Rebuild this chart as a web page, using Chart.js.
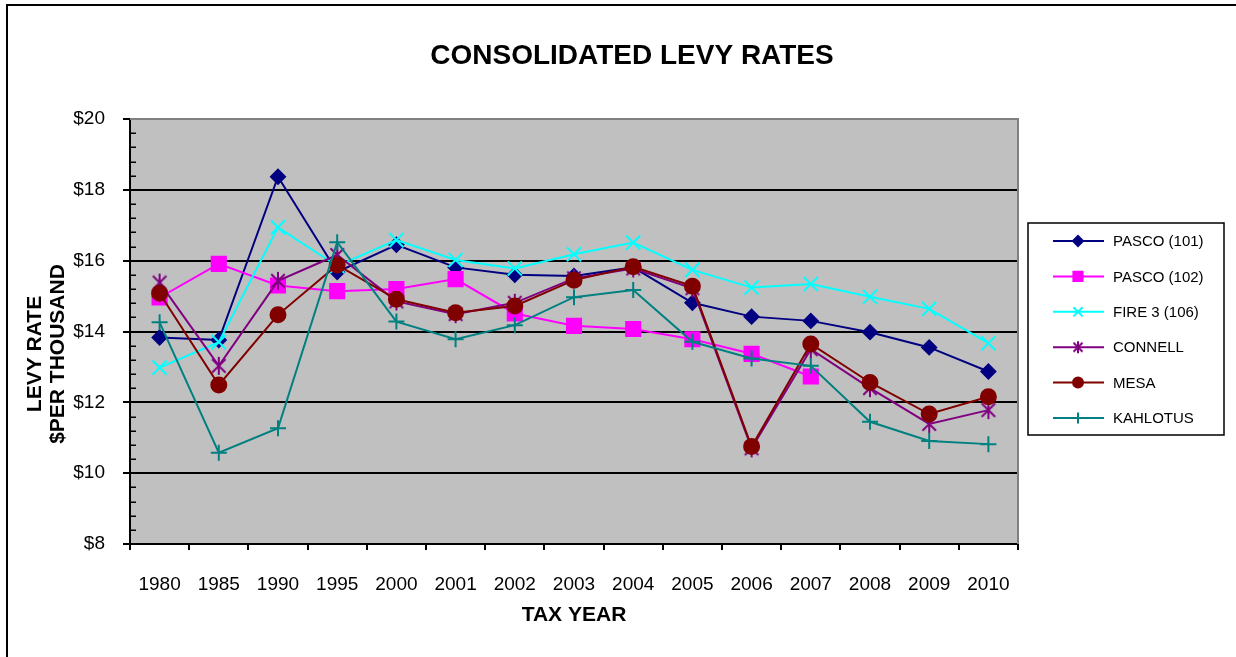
<!DOCTYPE html>
<html>
<head>
<meta charset="utf-8">
<script src="https://cdn.jsdelivr.net/npm/chart.js@4.4.1/dist/chart.umd.min.js"></script>
<style>
  html, body { margin: 0; padding: 0; background: #ffffff; }
  #wrap { width: 1236px; height: 657px; position: relative; }
</style>
</head>
<body>
<div id="wrap"><canvas id="c" width="1236" height="657"></canvas></div>
<script>
// ---- data ----
const years = ['1980','1985','1990','1995','2000','2001','2002','2003','2004','2005','2006','2007','2008','2009','2010'];
const pasco101 = [13.83, 13.76, 18.37, 15.68, 16.45, 15.81, 15.60, 15.57, 15.81, 14.81, 14.42, 14.30, 13.98, 13.55, 12.87];
const pasco102 = [14.96, 15.91, 15.30, 15.14, 15.20, 15.48, 14.51, 14.16, 14.07, 13.78, 13.37, 12.73, null, null, null];
const fire3    = [12.98, 13.70, 16.94, 15.85, 16.58, 16.02, 15.78, 16.18, 16.51, 15.74, 15.24, 15.34, 14.98, 14.64, 13.67];
const connell  = [15.38, 13.03, 15.43, 16.16, 14.85, 14.49, 14.81, 15.50, 15.78, 15.22, 10.70, 13.50, 12.40, 11.39, 11.78];
const mesa     = [15.08, 12.49, 14.47, 15.88, 14.91, 14.53, 14.72, 15.45, 15.83, 15.28, 10.75, 13.65, 12.56, 11.67, 12.16];
const kahlotus = [14.26, 10.58, 11.27, 16.52, 14.28, 13.78, 14.18, 14.97, 15.17, 13.71, 13.24, 13.03, 11.45, 10.91, 10.82];
const seriesNames = ['PASCO (101)', 'PASCO (102)', 'FIRE 3 (106)', 'CONNELL', 'MESA', 'KAHLOTUS'];
const yTicks = [8, 10, 12, 14, 16, 18, 20];
const chartTitle = 'CONSOLIDATED LEVY RATES';
const xTitle = 'TAX YEAR';
const yTitle = ['LEVY RATE', '$PER THOUSAND'];

const FONT = "'Liberation Sans', Arial, sans-serif";

function makeStar(color, r, lw) {
  const s = Math.ceil(2 * r + lw + 2);
  const cv = document.createElement('canvas');
  cv.width = s; cv.height = s;
  const g = cv.getContext('2d');
  const c = s / 2;
  g.strokeStyle = color; g.lineWidth = lw; g.lineCap = 'butt';
  const d = r * 0.75;
  g.beginPath();
  g.moveTo(c - d, c - d); g.lineTo(c + d, c + d);
  g.moveTo(c + d, c - d); g.lineTo(c - d, c + d);
  g.moveTo(c, c - r); g.lineTo(c, c + r);
  g.stroke();
  return cv;
}

const styles = [
  { color: '#000080', fill: '#000080', pointStyle: 'rectRot', radius: 7, lRadius: 5 },
  { color: '#FF00FF', fill: '#FF00FF', pointStyle: 'rect', radius: 10, lRadius: 6.5 },
  { color: '#00FFFF', fill: '#00FFFF', pointStyle: 'crossRot', radius: 10, lRadius: 6.5 },
  { color: '#800080', fill: '#800080', pointStyle: makeStar('#800080', 9, 2), radius: 9, lStyle: makeStar('#800080', 6, 2), lRadius: 6 },
  { color: '#800000', fill: '#800000', pointStyle: 'circle', radius: 7.5, lRadius: 5 },
  { color: '#008080', fill: '#008080', pointStyle: 'cross', radius: 8, lRadius: 5.5 }
];
const allData = [pasco101, pasco102, fire3, connell, mesa, kahlotus];

const datasets = allData.map((d, i) => ({
  label: seriesNames[i],
  data: d,
  borderColor: styles[i].color,
  backgroundColor: styles[i].fill,
  borderWidth: 2,
  pointStyle: styles[i].pointStyle,
  pointRadius: styles[i].radius,
  pointHoverRadius: styles[i].radius,
  pointBorderColor: styles[i].color,
  pointBackgroundColor: styles[i].fill,
  pointBorderWidth: 2,
  tension: 0,
  fill: false,
  order: allData.length - i
}));

const decor = {
  id: 'decor',
  beforeDraw(chart) {
    const { ctx, chartArea: a } = chart;
    ctx.save();
    ctx.fillStyle = '#ffffff';
    ctx.fillRect(0, 0, chart.width, chart.height);
    // outer frame
    ctx.strokeStyle = '#000';
    ctx.lineWidth = 2;
    ctx.beginPath();
    ctx.moveTo(7, 700); ctx.lineTo(7, 5); ctx.lineTo(1240, 5);
    ctx.stroke();
    // plot bg
    ctx.fillStyle = '#C0C0C0';
    ctx.fillRect(a.left, a.top, a.right - a.left, a.bottom - a.top);
    ctx.restore();
  },
  beforeDatasetsDraw(chart) {
    const { ctx, chartArea: a, scales } = chart;
    ctx.save();
    // grey plot border top/right
    ctx.strokeStyle = '#808080';
    ctx.lineWidth = 2;
    ctx.beginPath();
    ctx.moveTo(a.left, a.top); ctx.lineTo(a.right, a.top); ctx.lineTo(a.right, a.bottom);
    ctx.stroke();
    // minor ticks on y axis
    const y = scales.y;
    ctx.strokeStyle = '#000';
    ctx.lineWidth = 1.5;
    ctx.beginPath();
    for (let k = 1; k < 30; k++) {
      if (k % 5 === 0) continue;
      const v = 8 + k * 0.4;
      const py = Math.round(y.getPixelForValue(v)) + 0.25;
      ctx.moveTo(a.left, py); ctx.lineTo(a.left + 6, py);
    }
    ctx.stroke();
    ctx.restore();
  },
  afterDraw(chart) {
    const { ctx } = chart;
    ctx.save();
    // chart title
    ctx.fillStyle = '#000';
    ctx.font = 'bold 28px ' + FONT;
    ctx.textAlign = 'center';
    ctx.textBaseline = 'middle';
    ctx.fillText(chartTitle, 632, 56);
    // y-axis title (two lines, rotated)
    ctx.font = 'bold 21px ' + FONT;
    const cy = 354;
    const xs = [35, 58];
    yTitle.forEach((t, i) => {
      ctx.save();
      ctx.translate(xs[i], cy);
      ctx.rotate(-Math.PI / 2);
      ctx.fillText(t, 0, 0);
      ctx.restore();
    });
    // legend
    const bx = 1028, by = 223, bw = 196, bh = 212;
    ctx.fillStyle = '#ffffff';
    ctx.fillRect(bx, by, bw, bh);
    ctx.strokeStyle = '#000';
    ctx.lineWidth = 1.5;
    ctx.strokeRect(bx, by, bw, bh);
    const rowY0 = 241, rowStep = 35.4;
    chart.data.datasets.forEach((ds, i) => {
      const yy = rowY0 + i * rowStep;
      ctx.strokeStyle = ds.borderColor;
      ctx.lineWidth = 2;
      ctx.beginPath();
      ctx.moveTo(1053, yy); ctx.lineTo(1104, yy);
      ctx.stroke();
      ctx.fillStyle = ds.backgroundColor;
      ctx.strokeStyle = ds.borderColor;
      Chart.helpers.drawPoint(ctx, {
        pointStyle: styles[i].lStyle || styles[i].pointStyle,
        radius: styles[i].lRadius,
        rotation: 0,
        borderWidth: 2
      }, 1078, yy);
      ctx.fillStyle = '#000';
      ctx.font = '15px ' + FONT;
      ctx.textAlign = 'left';
      ctx.textBaseline = 'middle';
      ctx.fillText(ds.label, 1113, yy + 1);
    });
    ctx.restore();
  }
};

new Chart(document.getElementById('c'), {
  type: 'line',
  data: { labels: years, datasets },
  options: {
    responsive: false,
    animation: false,
    devicePixelRatio: 1,
    layout: { padding: { left: 0, right: 218, top: 119, bottom: 0 } },
    plugins: {
      legend: { display: false },
      tooltip: { enabled: false },
      title: { display: false }
    },
    scales: {
      x: {
        type: 'category',
        offset: true,
        grid: { offset: true, drawOnChartArea: false, drawTicks: true, tickLength: 6, color: '#000', lineWidth: 2 },
        border: { color: '#000', width: 2 },
        ticks: { color: '#000', font: { family: FONT, size: 19 }, padding: 23, maxRotation: 0, autoSkip: false },
        title: { display: true, text: xTitle, color: '#000', font: { family: FONT, size: 21, weight: 'bold', lineHeight: 1.2 }, padding: { top: 0, bottom: 29 } },
        afterFit(s) { s.height = 113; }
      },
      y: {
        min: 8, max: 20,
        afterBuildTicks(s) { s.ticks = yTicks.map(v => ({ value: v })); },
        grid: {
          color: (c) => (c.tick && (c.tick.value === 20 || c.tick.value === 8)) ? 'rgba(0,0,0,0)' : '#000',
          tickColor: '#000',
          lineWidth: 2,
          tickLength: 7,
          drawTicks: true
        },
        border: { color: '#000', width: 2 },
        ticks: { color: '#000', font: { family: FONT, size: 19 }, padding: 18, callback: (v) => '$' + v },
        afterFit(s) { s.width = 130; }
      }
    }
  },
  plugins: [decor]
});
</script>
</body>
</html>
